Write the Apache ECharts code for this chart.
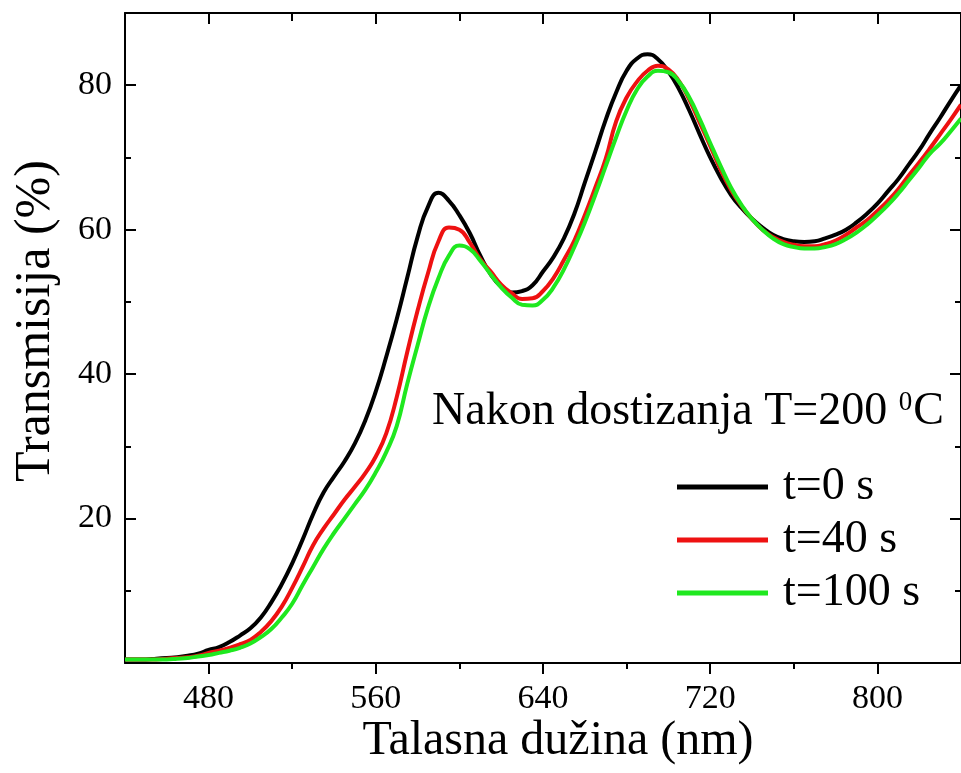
<!DOCTYPE html>
<html>
<head>
<meta charset="utf-8">
<script src="https://cdn.jsdelivr.net/npm/echarts@6/dist/echarts.min.js"></script>
<style>
html,body{margin:0;padding:0;background:#fff;}
#c{width:961px;height:773px;}
</style>
</head>
<body>
<div id="c"></div>
<script>
// wavelength (nm), 5 nm steps
const wavelengths = [440,445,450,455,460,465,470,475,480,485,490,495,500,505,510,515,520,525,530,535,540,545,550,555,560,565,570,575,580,585,590,595,600,605,610,615,620,625,630,635,640,645,650,655,660,665,670,675,680,685,690,695,700,705,710,715,720,725,730,735,740,745,750,755,760,765,770,775,780,785,790,795,800,805,810,815,820,825,830,835,840];

const t0 = [0.5,0.5,0.5,0.6,0.7,0.8,1.0,1.3,1.8,2.2,2.9,3.8,4.8,6.3,8.4,10.9,13.8,17.1,20.6,23.6,25.8,27.9,30.4,33.6,37.6,42.4,47.6,53.3,59.0,63.2,65.1,64.0,62.0,59.5,56.4,53.8,52.1,51.3,51.5,52.3,54.2,56.2,58.8,62.2,66.5,70.8,75.2,79.0,82.0,83.7,84.3,83.6,81.9,79.5,76.5,73.2,70.0,67.2,64.8,63.0,61.5,60.3,59.3,58.7,58.4,58.3,58.4,58.8,59.3,60.0,61.0,62.2,63.6,65.3,67.0,69.0,71.0,73.3,75.5,77.8,80.0];

const t40 = [0.5,0.5,0.5,0.5,0.6,0.7,0.8,1.0,1.4,1.7,2.1,2.6,3.2,4.3,5.8,7.8,10.4,13.3,16.3,18.6,20.6,22.6,24.4,26.3,28.6,31.8,36.8,43.0,48.8,54.0,58.4,60.3,60.0,58.2,55.9,54.2,52.4,51.2,50.4,50.5,51.5,53.3,55.8,58.5,62.0,65.8,69.8,75.0,78.3,80.5,82.0,82.7,82.2,80.6,78.0,74.8,71.6,68.3,65.5,63.3,61.5,60.0,59.0,58.3,57.9,57.7,57.7,58.0,58.5,59.3,60.3,61.3,62.6,64.0,65.6,67.5,69.3,71.2,73.2,75.2,77.3];

const t100 = [0.5,0.5,0.5,0.5,0.5,0.6,0.7,0.9,1.1,1.4,1.7,2.1,2.7,3.6,4.7,6.3,8.2,10.8,13.3,15.8,18.0,20.0,22.0,24.0,26.4,29.2,32.8,38.6,44.0,49.2,53.3,56.4,57.8,57.3,55.7,53.8,52.0,50.6,49.6,49.5,50.3,52.0,54.5,57.6,61.0,64.8,68.8,72.8,76.5,79.4,81.2,82.0,81.8,80.5,78.3,75.3,72.0,68.8,65.8,63.4,61.5,60.0,58.8,58.0,57.6,57.4,57.4,57.6,58.0,58.7,59.6,60.7,62.0,63.4,65.0,66.8,68.6,70.5,71.9,73.6,75.4];

const seriesNames = ['t=0 s','t=40 s','t=100 s'];
const seriesColors = ['#000000','#ee1111','#1fe81f'];

const xMajorTicks = [480,560,640,720,800];
const xMinorTicks = [520,600,680,760];
const yMajorTicks = [20,40,60,80];
const yMinorTicks = [10,30,50,70];

const xMin = 440, xMax = 840, yMin = 0, yMax = 90;
const axisTitleX = 'Talasna dužina (nm)';
const axisTitleY = 'Transmisija (%)';

const FONT = '"Liberation Serif","Times New Roman",serif';

function pairs(ys){ return wavelengths.map((w,i)=>[w, ys[i]]); }

const chart = echarts.init(document.getElementById('c'), null, {renderer:'canvas'});

function xAxisDef(pos, ticks, len, inside, showLine, showLabel){
  return {
    type:'value', position:pos, min:xMin, max:xMax,
    axisLine:{show:showLine, onZero:false, lineStyle:{color:'#000', width:2}},
    axisTick:{show:true, inside:inside, length:len, customValues:ticks, lineStyle:{color:'#000', width:2}},
    axisLabel:{show:showLabel, customValues:ticks, margin:19, color:'#000', fontSize:34, fontFamily:FONT},
    splitLine:{show:false}
  };
}
function yAxisDef(pos, ticks, len, showLine, showLabel){
  return {
    type:'value', position:pos, min:yMin, max:yMax,
    axisLine:{show:showLine, onZero:false, lineStyle:{color:'#000', width:2}},
    axisTick:{show:true, inside:true, length:len, customValues:ticks, lineStyle:{color:'#000', width:2}},
    axisLabel:{show:showLabel, customValues:ticks, margin:13, color:'#000', fontSize:34, fontFamily:FONT},
    splitLine:{show:false}
  };
}

const option = {
  backgroundColor:'#fff',
  animation:false,
  grid:{left:125, top:13, right:-8, bottom:110, containLabel:false},
  xAxis:[
    xAxisDef('bottom', xMajorTicks, 11, false, true, true),
    xAxisDef('bottom', xMinorTicks, 6, false, false, false),
    xAxisDef('top', xMajorTicks, 11, true, true, false),
    xAxisDef('top', xMinorTicks, 8, true, false, false)
  ],
  yAxis:[
    yAxisDef('left', yMajorTicks, 11, true, true),
    yAxisDef('left', yMinorTicks, 6, false, false),
    yAxisDef('right', yMajorTicks, 11, true, false),
    yAxisDef('right', yMinorTicks, 6, false, false)
  ],
  legend:{
    orient:'vertical', left:672, top:459, itemWidth:91, itemHeight:5, itemGap:7,
    data:seriesNames,
    textStyle:{fontSize:46, fontFamily:FONT, color:'#000', padding:[0,0,0,10]},
    icon:'rect'
  },
  series:[t0,t40,t100].map((ys,i)=>({
    name:seriesNames[i], type:'line', data:pairs(ys), showSymbol:false, symbol:'none',
    smooth:0.5, xAxisIndex:0, yAxisIndex:0,
    lineStyle:{color:seriesColors[i], width:4},
    itemStyle:{color:seriesColors[i]}
  })),
  graphic:[
    {type:'text', x:558, y:741, style:{text:axisTitleX, font:'48px '+FONT, fill:'#000', align:'center', verticalAlign:'middle'}},
    {type:'text', x:36, y:321, rotation:Math.PI/2, style:{text:axisTitleY, font:'50px '+FONT, fill:'#000', align:'center', verticalAlign:'middle'}},
    {type:'text', left:432, top:389, style:{
      text:'{n|Nakon dostizanja T=200 }{s|0}{n|C}',
      rich:{
        n:{fontSize:46, fontFamily:FONT, fill:'#000', verticalAlign:'bottom'},
        s:{fontSize:27, fontFamily:FONT, fill:'#000', verticalAlign:'top', padding:[0,1,17,0]}
      }
    }}
  ]
};
chart.setOption(option);
</script>
</body>
</html>
